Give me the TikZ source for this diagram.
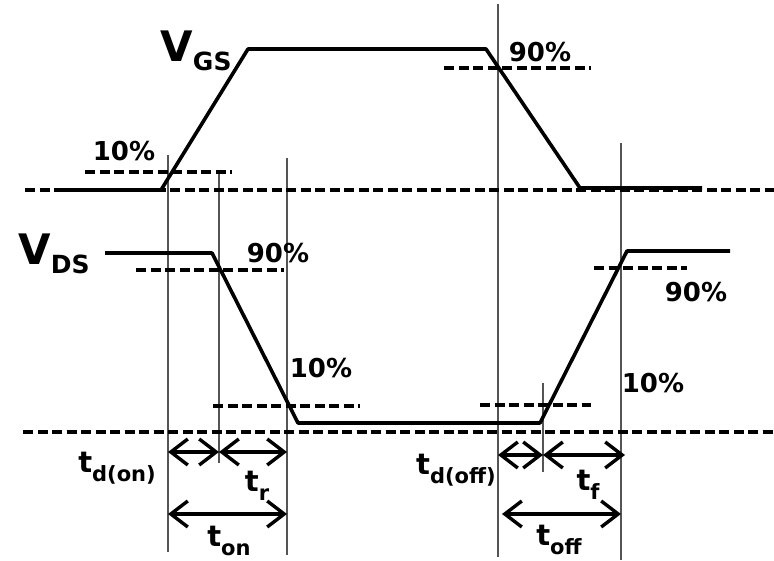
\documentclass[tikz,border=0pt]{standalone}
\usepackage{fontspec}
\setmainfont{DejaVu Sans}
\usepackage{tikz}
\usepackage{xcolor}
\usetikzlibrary{arrows.meta,positioning}
\definecolor{cK}{HTML}{000000}
\definecolor{cG}{HTML}{555555}
\tikzset{
  wave/.style={line width=3.6pt,cK,line join=round},
  lvl/.style={line width=3.6pt,cK,dash pattern=on 10pt off 4.5pt},
  guide/.style={line width=1.6pt,cG},
  span/.style={{Straight Barb[length=17pt,width=26pt]}-{Straight Barb[length=17pt,width=26pt]},
               line width=3.4pt,cK},
  pct/.style={font=\bfseries\fontsize{26}{26}\selectfont,inner sep=0pt},
  tlbl/.style={inner sep=0pt},
}
\newcommand{\sig}[2]{{\fontsize{42}{42}\selectfont\bfseries #1}\raisebox{-9pt}{\fontsize{25}{25}\selectfont\bfseries #2}}
\newcommand{\tim}[1]{{\fontsize{29}{29}\selectfont\bfseries t}\raisebox{-9pt}{\fontsize{21}{21}\selectfont\bfseries #1}}

\begin{document}
\begin{tikzpicture}[x=1pt,y=-1pt]
  \useasboundingbox (0,0) rectangle (774,561);
  % thin vertical guides
  \foreach \n/\x/\a/\b in {on1/168/155/552,on2/219/172/463,on3/287/158/555,
                           off1/498/4/557,off2/543/383/472,off3/621/143/560}{
     \coordinate (\n-t) at (\x,\a);
     \coordinate (\n-b) at (\x,\b);
     \draw[guide] (\n-t) -- (\n-b);
  }
  % zero levels and 10/90 percent levels
  \foreach \xa/\xb/\y in {25/774/190,23/774/432,85/232/172,444/591/68,
                          136/284/270,213/360/406,480/591/405,594/687/268}{
     \draw[lvl] (\xa,\y) -- (\xb,\y);
  }
  % waveforms
  \draw[wave] (55,190) -- (161,190) -- (248,49) -- (486,49) -- (580,188) -- (702,188);
  \draw[wave] (105,253) -- (212,253) -- (298,423) -- (540,423) -- (627,251) -- (730,251);
  \node[inner sep=0pt] (vgs) at (196,51) {\sig{V}{GS}};
  \node[inner sep=0pt] (vds) at (54,254) {\sig{V}{DS}};
  \node[pct] (p1) at (124,151) {10\%};
  \node[pct] (p2) at (540,52) {90\%};
  \node[pct] (p3) at (278,253) {90\%};
  \node[pct] (p4) at (321,368) {10\%};
  \node[pct] (p5) at (653,383) {10\%};
  \node[pct] (p6) at (696,292) {90\%};
  % time intervals
  \coordinate (a1) at (168,452);
  \coordinate (a2) at (219,452);
  \coordinate (a3) at (287,452);
  \coordinate (b1) at (168,514);
  \coordinate (b2) at (287,514);
  \coordinate (c1) at (498,455);
  \coordinate (c2) at (543,455);
  \coordinate (c3) at (625,455);
  \coordinate (d1) at (502,514);
  \coordinate (d2) at (621,514);
  \draw[span] (a1) -- (a2);
  \draw[span] (a2) -- (a3);
  \draw[span] (b1) -- (b2);
  \draw[span] (c1) -- (c2);
  \draw[span] (c2) -- (c3);
  \draw[span] (d1) -- (d2);
  \node[tlbl] (tdon) at (117,468) {\tim{d(on)}};
  \node[tlbl] (tr) at (257,486) {\tim{r}};
  \node[tlbl] (ton) at (229,541) {\tim{on}};
  \node[tlbl] (tdoff) at (456,470) {\tim{d(off)}};
  \node[tlbl] (tf) at (588,485) {\tim{f}};
  \node[tlbl] (toff) at (559,540) {\tim{off}};
\end{tikzpicture}
\end{document}
